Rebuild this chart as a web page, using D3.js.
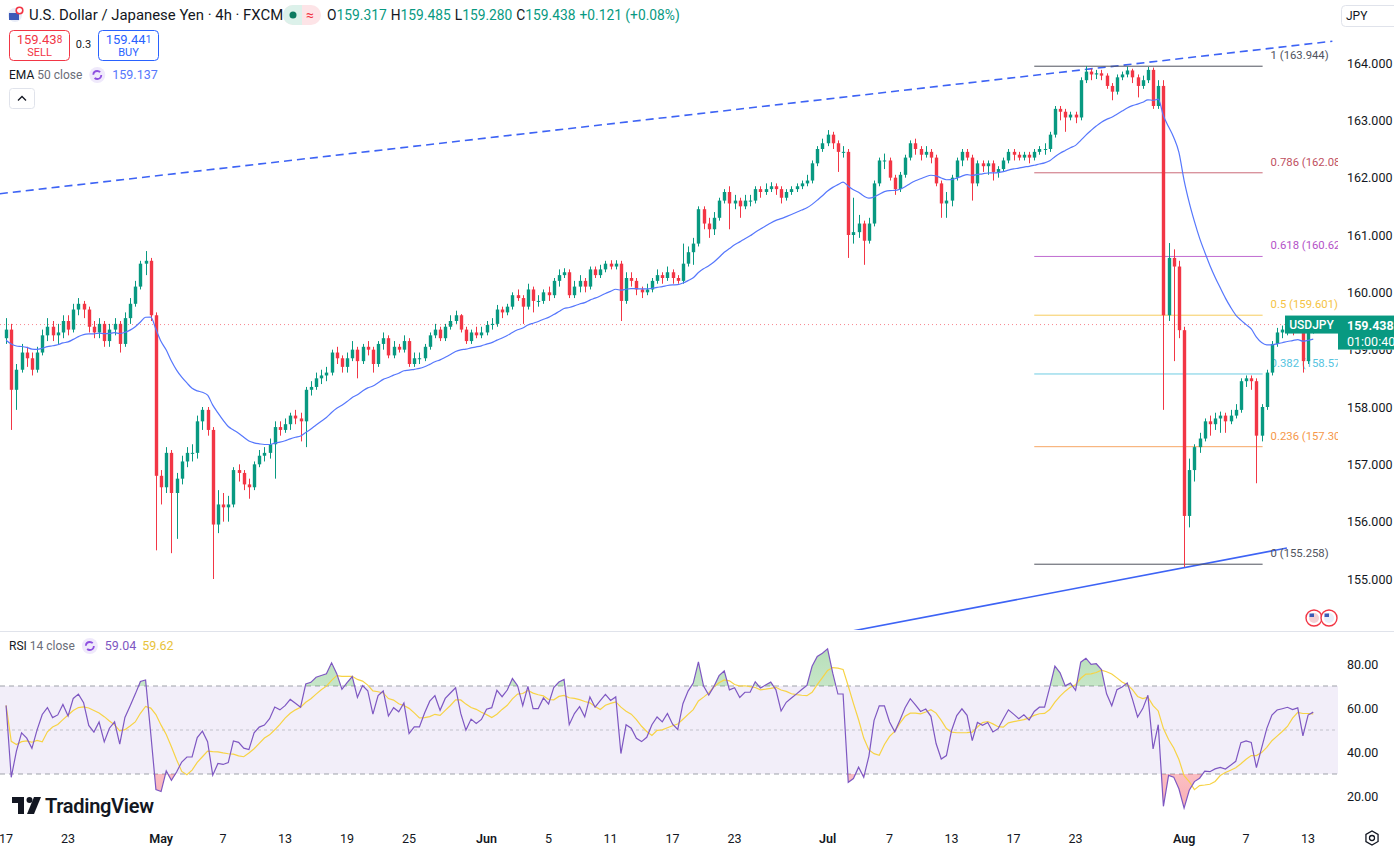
<!DOCTYPE html>
<html>
<head>
<meta charset="utf-8">
<script src="https://cdn.jsdelivr.net/npm/d3@7"></script>
<style>
  body { margin: 0; background: #fff; overflow: hidden; }
  svg { display: block; font-family: Roboto, "Noto Sans", sans-serif; }
</style>
</head>
<body>
<svg id="chart" width="1394" height="849"></svg>
<script>
// The indicator periods are shortened so they track the 4h EMA 50 / RSI 14 of the original.
const firstOpen = 159.20;

const closes = [
  159.35,158.30,158.65, 158.95,158.85,158.65, 158.95,159.25,159.40, 159.25,159.30,159.50,
  159.35,159.70,159.80, 159.70,159.40,159.30, 159.45,159.15,159.35, 159.45,159.10,159.55,
  159.80,160.10,160.50, 160.55,159.60,156.80, 156.60,157.20,156.50, 156.75,157.05,157.20,
  157.20,157.75,157.95, 157.60,155.95,156.30, 156.25,156.30,156.90, 156.85,156.65,156.60,
  157.00,157.15,157.20, 157.35,157.65,157.60, 157.70,157.85,157.80, 157.75,158.30,158.35,
  158.50,158.55,158.60, 158.95,158.85,158.70, 158.85,159.00,158.80, 159.05,159.00,158.75,
  159.10,159.20,158.90, 159.05,159.00,159.15, 158.75,158.85,158.85, 159.05,159.25,159.35,
  159.20,159.40,159.50, 159.60,159.35,159.15, 159.30,159.25,159.30, 159.43,159.45,159.70,
  159.65,159.75,159.95, 159.90,159.75,160.05, 159.85,159.85,160.00, 159.95,160.20,160.30,
  160.35,159.95,160.10, 160.20,160.10,160.40, 160.30,160.40,160.50, 160.45,160.50,159.85,
  160.25,160.20,160.05, 160.00,160.05,160.20, 160.30,160.25,160.35, 160.25,160.20,160.50,
  160.70,160.85,161.45, 161.20,161.10,161.30, 161.60,161.75,161.55, 161.60,161.50,161.60,
  161.60,161.80,161.75, 161.80,161.85,161.80, 161.65,161.75,161.80, 161.85,161.90,161.95,
  162.25,162.50,162.60, 162.75,162.60,162.45, 162.45,161.00,161.05, 161.20,160.90,161.20,
  161.90,162.30,162.30, 162.00,161.80,162.05, 162.35,162.60,162.50, 162.40,162.45,162.35,
  161.90,161.55,161.60, 162.00,162.30,162.45, 162.35,161.90,162.25, 162.20,162.25,162.10,
  162.15,162.30,162.45, 162.40,162.35,162.40, 162.35,162.45,162.50, 162.50,162.75,163.20,
  163.15,163.05,163.10, 163.05,163.70,163.85, 163.80,163.82,163.78, 163.60,163.50,163.75,
  163.80,163.87,163.75, 163.60,163.70,163.88, 163.25,163.60,159.60, 160.60,160.45,159.34,
  156.10,156.90,157.30, 157.45,157.75,157.70, 157.80,157.85,157.75, 157.85,157.95,158.45,
  158.50,158.45,157.50, 158.00,158.60,159.10, 159.30,159.35,159.40, 159.35,159.40,158.80,
  159.35,159.438
];

const highs = [
  159.55,159.45,158.75, 159.10,159.05,158.95, 159.05,159.35,159.55, 159.50,159.45,159.60,
  159.60,159.80,159.90, 159.85,159.75,159.50, 159.55,159.50,159.45, 159.55,159.50,159.65,
  159.90,160.20,160.55, 160.72,160.60,159.65, 156.90,157.30,157.25, 156.85,157.15,157.30,
  157.35,157.85,158.00, 158.00,157.65,156.55, 156.50,156.45,156.95, 157.00,156.90,156.75,
  157.05,157.25,157.30, 157.45,157.75,157.75, 157.80,157.90,157.95, 157.90,158.35,158.45,
  158.60,158.65,158.70, 159.00,159.05,158.90, 158.95,159.15,159.05, 159.10,159.15,159.05,
  159.15,159.30,159.25, 159.15,159.10,159.25, 159.20,158.95,158.95, 159.10,159.30,159.45,
  159.40,159.45,159.60, 159.68,159.62,159.40, 159.35,159.40,159.40, 159.50,159.55,159.78,
  159.75,159.80,160.00, 160.05,159.95,160.15, 160.10,159.95,160.05, 160.10,160.25,160.40,
  160.42,160.40,160.20, 160.30,160.25,160.45, 160.45,160.48,160.55, 160.56,160.56,160.55,
  160.35,160.35,160.25, 160.10,160.15,160.25, 160.40,160.35,160.45, 160.40,160.30,160.85,
  160.80,160.95,161.50, 161.50,161.30,161.40, 161.65,161.80,161.85, 161.70,161.65,161.70,
  161.70,161.85,161.85, 161.90,161.92,161.90, 161.85,161.80,161.85, 161.90,161.95,162.05,
  162.30,162.55,162.68, 162.83,162.80,162.65, 162.55,162.50,161.65, 161.35,161.25,161.30,
  161.95,162.35,162.42, 162.35,162.05,162.10, 162.40,162.65,162.68, 162.55,162.55,162.50,
  162.40,161.95,161.75, 162.05,162.35,162.50, 162.50,162.40,162.30, 162.30,162.30,162.30,
  162.20,162.35,162.50, 162.50,162.45,162.45, 162.45,162.50,162.55, 162.60,162.80,163.25,
  163.25,163.20,163.15, 163.15,163.75,163.944, 163.90,163.88,163.88, 163.82,163.65,163.80,
  163.85,163.94,163.90, 163.80,163.78,163.93, 163.92,163.70,163.70, 160.86,160.75,160.55,
  159.40,157.10,157.35, 157.55,157.80,157.85, 157.90,157.92,157.90, 157.95,158.05,158.50,
  158.55,158.55,158.50, 158.05,158.65,159.15, 159.38,159.42,159.48, 159.48,159.47,159.45,
  159.40,159.485
];

const lows = [
  159.10,157.60,157.95, 158.60,158.70,158.55, 158.60,158.90,159.15, 159.15,159.10,159.20,
  159.25,159.30,159.60, 159.55,159.30,159.20, 159.20,159.05,159.05, 159.25,158.95,159.05,
  159.45,159.75,160.05, 160.30,159.50,155.50, 156.30,156.50,155.45, 155.70,156.65,156.95,
  157.05,157.10,157.60, 157.50,155.00,155.80, 156.00,156.00,156.25, 156.70,156.55,156.40,
  156.55,156.95,157.05, 157.10,156.75,157.50, 157.55,157.60,157.70, 157.40,157.30,158.20,
  158.30,158.40,158.45, 158.55,158.75,158.60, 158.60,158.80,158.50, 158.75,158.90,158.60,
  158.70,159.00,158.85, 158.85,158.95,158.95, 158.70,158.70,158.75, 158.80,159.00,159.20,
  159.15,159.15,159.35, 159.45,159.30,159.10, 159.10,159.20,159.20, 159.25,159.35,159.40,
  159.55,159.60,159.70, 159.85,159.45,159.70, 159.65,159.75,159.80, 159.85,159.90,160.10,
  160.25,159.90,159.90, 160.00,160.00,160.05, 160.25,160.25,160.35, 160.40,160.40,159.50,
  159.80,160.10,159.95, 159.90,159.95,160.00, 160.15,160.15,160.20, 160.15,160.15,160.15,
  160.45,160.48,160.80, 161.10,160.95,161.00, 161.25,161.55,161.10, 161.45,161.30,161.45,
  161.50,161.55,161.65, 161.70,161.75,161.70, 161.55,161.60,161.70, 161.75,161.80,161.85,
  161.90,162.20,162.45, 162.55,162.50,162.10, 162.35,160.60,160.85, 160.95,160.48,160.85,
  161.15,161.85,162.15, 161.95,161.70,161.75, 162.00,162.30,162.40, 162.30,162.35,162.25,
  161.85,161.30,161.30, 161.50,161.95,162.20, 162.30,161.60,161.85, 162.10,162.05,161.95,
  162.00,162.10,162.25, 162.30,162.30,162.30, 162.25,162.30,162.40, 162.40,162.45,162.70,
  163.00,162.80,163.00, 162.95,163.00,163.65, 163.70,163.72,163.70, 163.55,163.35,163.45,
  163.70,163.75,163.65, 163.40,163.55,163.65, 163.20,163.20,157.95, 159.50,158.80,159.20,
  155.21,155.90,156.70, 157.20,157.40,157.50, 157.60,157.55,157.55, 157.70,157.80,157.90,
  158.35,158.30,156.67, 157.40,157.95,158.55, 159.05,159.20,159.25, 159.25,159.30,158.60,
  158.75,159.28
];

// time axis: trading-day index of each label
const tickLabels = ["17","23","May","7","13","19","25","Jun","5","11","17","23","Jul","7","13","17","23","Aug","7","13"];
const tickDays   = [0,4,10,14,18,22,26,31,35,39,43,47,53,57,61,65,69,76,80,84];

const priceTicks = [155,156,157,158,159,160,161,162,163,164];
const rsiTicks = [20,40,60,80];

// fibonacci retracement drawn between the swing high and swing low
const fibHigh = 163.944, fibLow = 155.258;
const fibRatios = [1, 0.786, 0.618, 0.5, 0.382, 0.236, 0];
const fibColors = ["#50535e", "#c0505f", "#b452c8", "#f5c343", "#55c4df", "#f5984a", "#50535e"];
const fibBars = [199.5, 243.7];

// trend lines, anchors as [bar, price]
const upperTrend = [[-1.2, 161.72], [256.7, 164.38]];
const lowerTrend = [[120, 153.34], [247.9, 155.54]];

const emaSeed = 159.15;
const lastPrice = 159.438;

const W = 1394, H = 849;
const plotRight = 1338, mainBottom = 630, rsiTop = 632, rsiBottom = 818;
const barsPerDay = 3, dayWidth = 15.5;
const up = "#089981", down = "#f23645";
const rsiLen = 9, rsiMaLen = 7;

const svg = d3.select("#chart");

const x = d3.scaleLinear().domain([0, barsPerDay]).range([3.5, 3.5 + dayWidth]);
const y = d3.scaleLinear().domain([155, 164]).range([579, 63]);
const yR = d3.scaleLinear().domain([20, 80]).range([796, 664]);

const bars = closes.map((c, i) => ({
  i: i,
  o: i ? closes[i - 1] : firstOpen,
  h: highs[i], l: lows[i], c: c
}));

// EMA (25 on 8h ~ 50 on 4h)
let e = emaSeed;
const ema = closes.map(c => (e = e + (c - e) * 2 / 26));

// RSI, Wilder smoothing
let ag = 0.06, al = 0.05;
const rsi = bars.map(b => {
  const ch = b.c - b.o;
  ag = (ag * (rsiLen - 1) + Math.max(ch, 0)) / rsiLen;
  al = (al * (rsiLen - 1) + Math.max(-ch, 0)) / rsiLen;
  return 100 - 100 / (1 + ag / al);
});
const rsiMa = rsi.map((v, i) => d3.mean(rsi.slice(Math.max(0, i - rsiMaLen + 1), i + 1)));

const defs = svg.append("defs");
defs.append("clipPath").attr("id", "mainClip")
  .append("rect").attr("x", 0).attr("y", 0).attr("width", plotRight).attr("height", mainBottom);
defs.append("clipPath").attr("id", "rsiClip")
  .append("rect").attr("x", 0).attr("y", rsiTop).attr("width", plotRight).attr("height", rsiBottom - rsiTop);
defs.append("clipPath").attr("id", "above70")
  .append("rect").attr("x", 0).attr("y", rsiTop).attr("width", plotRight).attr("height", yR(70) - rsiTop);
defs.append("clipPath").attr("id", "below30")
  .append("rect").attr("x", 0).attr("y", yR(30)).attr("width", plotRight).attr("height", rsiBottom - yR(30));
const gUp = defs.append("linearGradient").attr("id", "gUp").attr("x1", 0).attr("y1", 0).attr("x2", 0).attr("y2", 1);
gUp.append("stop").attr("offset", "0%").attr("stop-color", "#4caf50").attr("stop-opacity", 0.4);
gUp.append("stop").attr("offset", "100%").attr("stop-color", "#4caf50").attr("stop-opacity", 0.04);
const gDn = defs.append("linearGradient").attr("id", "gDn").attr("x1", 0).attr("y1", 0).attr("x2", 0).attr("y2", 1);
gDn.append("stop").attr("offset", "0%").attr("stop-color", "#f23645").attr("stop-opacity", 0.04);
gDn.append("stop").attr("offset", "100%").attr("stop-color", "#f23645").attr("stop-opacity", 0.4);

// ---------- main pane ----------
const main = svg.append("g").attr("clip-path", "url(#mainClip)");

// last price dotted line
main.append("line")
  .attr("x1", 0).attr("x2", plotRight)
  .attr("y1", y(lastPrice)).attr("y2", y(lastPrice))
  .attr("stroke", "#f7525f").attr("stroke-opacity", 0.7)
  .attr("stroke-width", 1).attr("stroke-dasharray", "1,3");

// trend lines
const trendLine = d3.line().x(d => x(d[0] + 0.5)).y(d => y(d[1]));
main.append("path").attr("d", trendLine(upperTrend))
  .attr("fill", "none").attr("stroke", "#3d63f5").attr("stroke-width", 1.6)
  .attr("stroke-dasharray", "8,5");
main.append("path").attr("d", trendLine(lowerTrend))
  .attr("fill", "none").attr("stroke", "#3d63f5").attr("stroke-width", 1.6);

// fib levels
const fib = fibRatios.map((r, k) => ({ r: r, p: fibLow + (fibHigh - fibLow) * r, color: fibColors[k] }));
const fibG = main.append("g");
fibG.selectAll("line").data(fib).enter().append("line")
  .attr("x1", x(fibBars[0])).attr("x2", x(fibBars[1]))
  .attr("y1", d => y(d.p)).attr("y2", d => y(d.p))
  .attr("stroke", d => d.color).attr("stroke-width", 1)
  .attr("stroke-opacity", d => (d.r === 0 || d.r === 1) ? 1 : 0.85);
fibG.selectAll("text").data(fib).enter().append("text")
  .attr("x", x(fibBars[1]) + 8).attr("y", d => y(d.p) - 7)
  .attr("fill", d => d.color).attr("font-size", 11.3)
  .text(d => d3.format("")(d.r) + " (" + d3.format(".3f")(d.p) + ")");

// candles
const bw = 3.4;
const cg = main.append("g");
cg.selectAll("line").data(bars).enter().append("line")
  .attr("x1", d => Math.round(x(d.i + 0.5)) + 0.5).attr("x2", d => Math.round(x(d.i + 0.5)) + 0.5)
  .attr("y1", d => y(d.h)).attr("y2", d => y(d.l))
  .attr("stroke", d => d.c >= d.o ? up : down).attr("stroke-width", 1);
cg.selectAll("rect").data(bars).enter().append("rect")
  .attr("x", d => Math.round(x(d.i + 0.5)) + 0.5 - bw / 2)
  .attr("width", bw)
  .attr("y", d => y(Math.max(d.o, d.c)))
  .attr("height", d => Math.max(1, Math.abs(y(d.o) - y(d.c))))
  .attr("fill", d => d.c >= d.o ? up : down);

// EMA
main.append("path").datum(ema)
  .attr("d", d3.line().x((d, i) => x(i + 0.5)).y(d => y(d)).curve(d3.curveMonotoneX))
  .attr("fill", "none").attr("stroke", "#5677fc").attr("stroke-width", 1.2);

// USDJPY pair tag
main.append("rect").attr("x", 1285).attr("y", y(lastPrice) - 9).attr("width", 53).attr("height", 18)
  .attr("fill", up);
main.append("text").attr("x", 1311.5).attr("y", y(lastPrice) + 4.5).attr("text-anchor", "middle")
  .attr("fill", "#fff").attr("font-size", 12).attr("font-weight", 500).text("USDJPY");

// small currency flags bottom-right of the pane
[1314, 1329].forEach((cx, k) => {
  const f = main.append("g");
  f.append("circle").attr("cx", cx).attr("cy", 618).attr("r", 8).attr("fill", "#fff").attr("stroke", "#f23645").attr("stroke-width", 1.4);
  f.append("circle").attr("cx", cx).attr("cy", 618).attr("r", 5).attr("fill", k ? "#e9eef9" : "#f5d0d4");
  f.append("rect").attr("x", cx - 4.5).attr("y", 613.5).attr("width", 4.5).attr("height", 3.5).attr("fill", "#3c5bb5");
});

// ---------- pane separator ----------
svg.append("line").attr("x1", 0).attr("x2", W).attr("y1", 631.5).attr("y2", 631.5)
  .attr("stroke", "#e0e3eb");

// ---------- RSI pane ----------
const rp = svg.append("g").attr("clip-path", "url(#rsiClip)");
rp.append("rect").attr("x", 0).attr("width", plotRight)
  .attr("y", yR(70)).attr("height", yR(30) - yR(70))
  .attr("fill", "#7e57c2").attr("fill-opacity", 0.1);
rp.selectAll("line.lvl").data([70, 50, 30]).enter().append("line")
  .attr("class", "lvl")
  .attr("x1", 0).attr("x2", plotRight)
  .attr("y1", d => yR(d)).attr("y2", d => yR(d))
  .attr("stroke", "#9598a1").attr("stroke-width", 1)
  .attr("stroke-dasharray", d => d === 50 ? "3,3" : "5,4")
  .attr("stroke-opacity", d => d === 50 ? 0.5 : 0.9);

const rx = (d, i) => x(i + 0.5);
rp.append("path").datum(rsi).attr("clip-path", "url(#above70)")
  .attr("d", d3.area().x(rx).y0(yR(70)).y1(d => yR(d)))
  .attr("fill", "url(#gUp)");
rp.append("path").datum(rsi).attr("clip-path", "url(#below30)")
  .attr("d", d3.area().x(rx).y0(yR(30)).y1(d => yR(d)))
  .attr("fill", "url(#gDn)");
rp.append("path").datum(rsiMa)
  .attr("d", d3.line().x(rx).y(d => yR(d)))
  .attr("fill", "none").attr("stroke", "#f7d345").attr("stroke-width", 1.2);
rp.append("path").datum(rsi)
  .attr("d", d3.line().x(rx).y(d => yR(d)))
  .attr("fill", "none").attr("stroke", "#7e57c2").attr("stroke-width", 1.2);

// ---------- price axes ----------
svg.append("g").selectAll("text").data(priceTicks.filter(d => Math.abs(y(d) - y(lastPrice)) > 30)).enter().append("text")
  .attr("x", 1347).attr("y", d => y(d) + 4.5)
  .attr("fill", "#131722").attr("font-size", 12.5)
  .text(d => d3.format(".3f")(d));
svg.append("g").selectAll("text").data(rsiTicks).enter().append("text")
  .attr("x", 1347).attr("y", d => yR(d) + 4.5)
  .attr("fill", "#131722").attr("font-size", 12.5)
  .text(d => d3.format(".2f")(d));

// tick hidden behind the price label: only its lower edge shows below the label
const hidden = priceTicks.filter(d => Math.abs(y(d) - y(lastPrice)) <= 30);
defs.append("clipPath").attr("id", "underLabel")
  .append("rect").attr("x", 1338).attr("y", y(lastPrice) + 25).attr("width", 56).attr("height", 12);
svg.append("g").attr("clip-path", "url(#underLabel)").selectAll("text").data(hidden).enter().append("text")
  .attr("x", 1347).attr("y", d => y(d) + 4.5)
  .attr("fill", "#131722").attr("font-size", 12.5)
  .text(d => d3.format(".3f")(d));

// last price label on the axis
svg.append("rect").attr("x", 1338).attr("y", y(lastPrice) - 9).attr("width", 56).attr("height", 34)
  .attr("fill", up);
svg.append("text").attr("x", 1347).attr("y", y(lastPrice) + 5)
  .attr("fill", "#fff").attr("font-size", 12.5).attr("font-weight", 700)
  .text(d3.format(".3f")(lastPrice));
svg.append("text").attr("x", 1347).attr("y", y(lastPrice) + 21)
  .attr("fill", "#fff").attr("font-size", 12.5).text("01:00:40");

// ---------- time axis ----------
svg.append("g").selectAll("text").data(tickLabels).enter().append("text")
  .attr("x", (d, k) => x(tickDays[k] * barsPerDay + 0.5))
  .attr("y", 843).attr("text-anchor", "middle")
  .attr("fill", "#131722").attr("font-size", 12.5)
  .attr("font-weight", d => isNaN(+d) ? 600 : 400)
  .text(d => d);

// gear icon
const gear = svg.append("g").attr("transform", "translate(1372,838)");
gear.append("path")
  .attr("d", d3.range(6).map(k => {
    const a = Math.PI / 3 * k + Math.PI / 6;
    return (k ? "L" : "M") + (7 * Math.cos(a)).toFixed(2) + "," + (7 * Math.sin(a)).toFixed(2);
  }).join("") + "Z")
  .attr("fill", "none").attr("stroke", "#131722").attr("stroke-width", 1.3);
gear.append("circle").attr("r", 2.5).attr("fill", "none").attr("stroke", "#131722").attr("stroke-width", 1.3);

// ---------- header ----------
const hdr = svg.append("g");
hdr.append("circle").attr("cx", 15).attr("cy", 15).attr("r", 7).attr("fill", "#e8ecf7");
hdr.append("rect").attr("x", 9).attr("y", 13).attr("width", 10).attr("height", 7).attr("fill", "#3d5ab8");
hdr.append("circle").attr("cx", 19.5).attr("cy", 10.5).attr("r", 3.3).attr("fill", "#fff").attr("stroke", "#f23645").attr("stroke-width", 1.6);
hdr.append("text").attr("x", 29).attr("y", 20).attr("font-size", 14.9).attr("fill", "#131722")
  .text("U.S. Dollar / Japanese Yen · 4h · FXCM");

hdr.append("rect").attr("x", 283).attr("y", 5).attr("width", 38).attr("height", 20).attr("rx", 10).attr("fill", "#fde4e7");
hdr.append("path").attr("d", "M302,5 h-9 a10,10 0 0 0 0,20 h9 z").attr("fill", "#dcf1ea");
hdr.append("circle").attr("cx", 293).attr("cy", 15).attr("r", 3.5).attr("fill", "#0b7a5f");
hdr.append("text").attr("x", 310).attr("y", 20).attr("text-anchor", "middle").attr("font-size", 14)
  .attr("fill", "#f23645").text("≈");

const ohlc = hdr.append("text").attr("x", 327).attr("y", 20).attr("font-size", 13.8);
[["O", "159.317"], ["H", "159.485"], ["L", "159.280"], ["C", "159.438"]].forEach((p, k) => {
  ohlc.append("tspan").attr("fill", "#131722").attr("dx", k ? 4 : 0).text(p[0]);
  ohlc.append("tspan").attr("fill", up).text(p[1]);
});
ohlc.append("tspan").attr("fill", up).attr("dx", 4).text("+0.121 (+0.08%)");

// sell / buy
hdr.append("rect").attr("x", 9.5).attr("y", 30.5).attr("width", 60).attr("height", 30).attr("rx", 4)
  .attr("fill", "#fff").attr("stroke", "#f23645");
const sellT = hdr.append("text").attr("x", 39.5).attr("y", 44).attr("text-anchor", "middle").attr("fill", "#f23645").attr("font-size", 13);
sellT.append("tspan").text("159.43");
sellT.append("tspan").attr("font-size", 10).attr("dy", -1).text("8");
hdr.append("text").attr("x", 39.5).attr("y", 56).attr("text-anchor", "middle").attr("fill", "#f23645").attr("font-size", 11).text("SELL");
hdr.append("text").attr("x", 83.5).attr("y", 48).attr("text-anchor", "middle").attr("fill", "#131722").attr("font-size", 11).text("0.3");
hdr.append("rect").attr("x", 98.5).attr("y", 30.5).attr("width", 60).attr("height", 30).attr("rx", 4)
  .attr("fill", "#fff").attr("stroke", "#2962ff");
const buyT = hdr.append("text").attr("x", 128.5).attr("y", 44).attr("text-anchor", "middle").attr("fill", "#2962ff").attr("font-size", 13);
buyT.append("tspan").text("159.44");
buyT.append("tspan").attr("font-size", 10).attr("dy", -1).text("1");
hdr.append("text").attr("x", 128.5).attr("y", 56).attr("text-anchor", "middle").attr("fill", "#2962ff").attr("font-size", 11).text("BUY");

// indicator legends
function legend(yy, name, args, values) {
  const t = hdr.append("text").attr("x", 9).attr("y", yy).attr("font-size", 12);
  t.append("tspan").attr("fill", "#131722").text(name);
  t.append("tspan").attr("fill", "#6a6d78").text(" " + args);
  const ix = 9 + t.node().getComputedTextLength() + 15;
  hdr.append("circle").attr("cx", ix).attr("cy", yy - 4).attr("r", 8).attr("fill", "#efe9fb");
  hdr.append("circle").attr("cx", ix).attr("cy", yy - 4).attr("r", 4).attr("fill", "none")
    .attr("stroke", "#8e4fe0").attr("stroke-width", 1.8).attr("stroke-dasharray", "9,3.5");
  let vx = ix + 15;
  values.forEach(v => {
    const vt = hdr.append("text").attr("x", vx).attr("y", yy).attr("font-size", 12.5).attr("fill", v[1]).text(v[0]);
    vx += vt.node().getComputedTextLength() + 6;
  });
}
legend(79, "EMA", "50 close", [["159.137", "#5677fc"]]);
legend(650, "RSI", "14 close", [["59.04", "#7e57c2"], ["59.62", "#e8c33a"]]);

// collapse button
hdr.append("rect").attr("x", 9.5).attr("y", 88.5).attr("width", 25).attr("height", 20).attr("rx", 3)
  .attr("fill", "#fff").attr("stroke", "#e0e3eb");
hdr.append("path").attr("d", "M18,100.5 l4,-4 l4,4").attr("fill", "none").attr("stroke", "#131722").attr("stroke-width", 1.3);

// currency box top right
hdr.append("rect").attr("x", 1341.5).attr("y", 5.5).attr("width", 60).attr("height", 21).attr("rx", 4)
  .attr("fill", "#fff").attr("stroke", "#e0e3eb");
hdr.append("text").attr("x", 1346).attr("y", 20).attr("font-size", 12).attr("fill", "#131722").text("JPY");

// TradingView mark
const logo = svg.append("g").attr("fill", "#131722");
logo.append("path").attr("d", "M12,797 h12 v17 h-6 v-11 h-6 z");
logo.append("circle").attr("cx", 29.5).attr("cy", 800).attr("r", 3);
logo.append("path").attr("d", "M34,797 h7 l-7,17 h-7 z");
logo.append("text").attr("x", 45).attr("y", 813).attr("font-size", 20).attr("font-weight", 600)
  .attr("letter-spacing", -0.3).text("TradingView");
</script>
</body>
</html>
